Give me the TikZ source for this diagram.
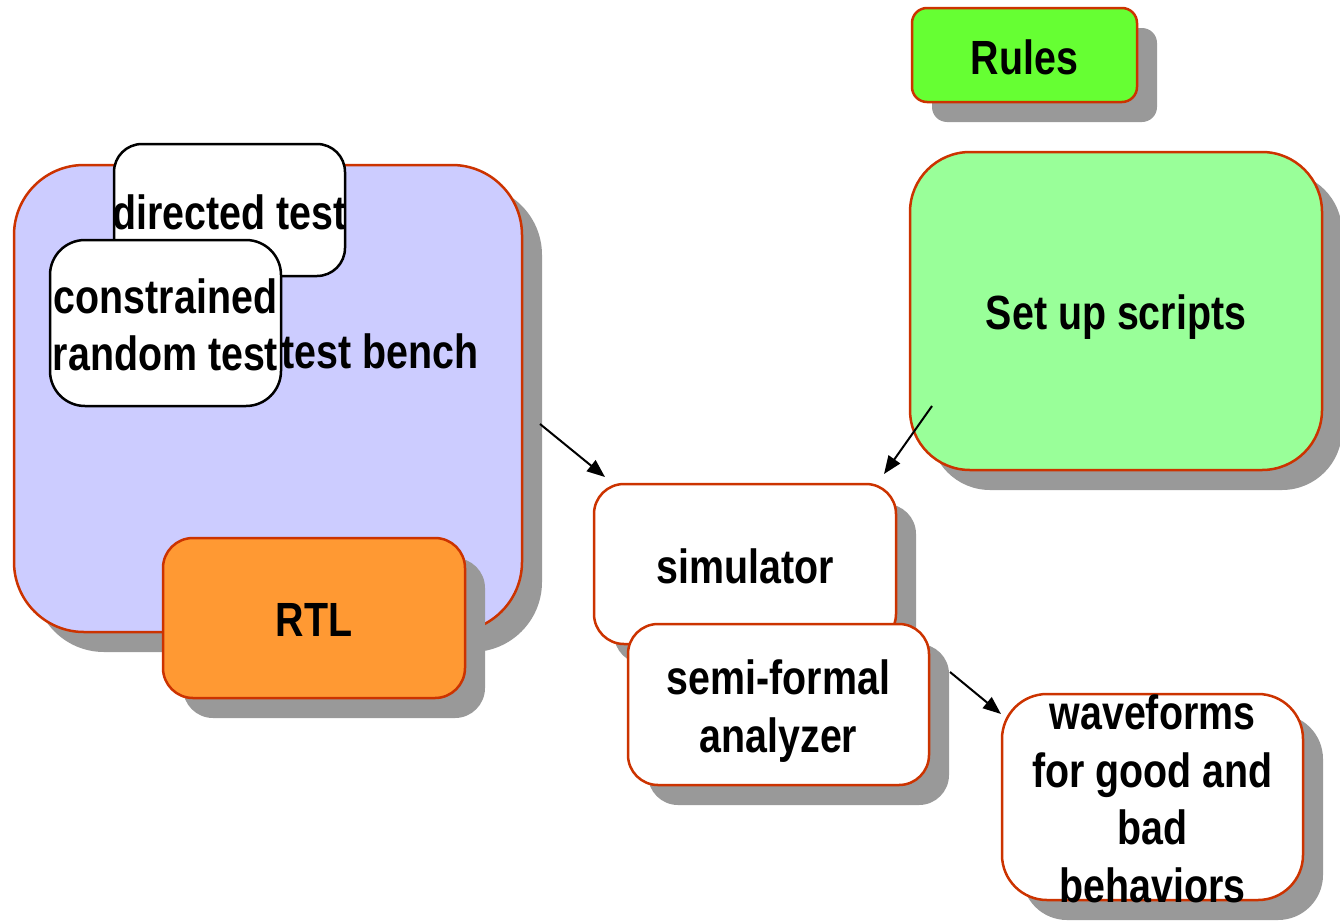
\documentclass[tikz,border=0pt]{standalone}
\usepackage{fontspec}
\setmainfont{Liberation Sans}[FakeStretch=0.82]
\usetikzlibrary{shadows,arrows.meta}
\definecolor{edgered}{HTML}{CC3300}
\definecolor{shadowgray}{HTML}{999999}
\definecolor{lavender}{HTML}{CCCCFF}
\definecolor{rulesgreen}{HTML}{66FF33}
\definecolor{scriptgreen}{HTML}{99FF99}
\definecolor{rtlorange}{HTML}{FF9933}
\newcommand{\lblfont}{\fontsize{48}{57.5}\selectfont\bfseries}
\begin{document}
\begin{tikzpicture}[x=1pt,y=-1pt,
  box/.style={draw=edgered, line width=2.5pt, rounded corners=#1, inner sep=0pt, minimum width=0pt},
  box/.default=30pt,
  plainbox/.style={draw=black, line width=2.5pt, fill=white, rounded corners=#1, inner sep=0pt},
  plainbox/.default=30pt,
  shadowed/.style={drop shadow={shadow xshift=20pt, shadow yshift=-20pt, fill=shadowgray, opacity=1}},
  lbl/.style={font=\lblfont, align=center, inner sep=0pt, text=black},
  conn/.style={line width=2pt, -{Triangle[length=18pt,width=14pt]}}
]
\useasboundingbox (0,0) rectangle (1340,921);

% test bench
\node[box=70pt, shadowed, fill=lavender, minimum width=508pt, minimum height=467pt] (tb) at (268,398.5) {};
\node[lbl] (tbtext) at (380,351) {test bench};
% directed test
\node[plainbox=28pt, minimum width=231pt, minimum height=132pt] (dt) at (229.5,210) {};
\node[lbl] (dttext) at (229.5,212) {directed test};
% constrained random test
\node[plainbox=35pt, minimum width=231pt, minimum height=166pt] (cr) at (165.5,323) {};
\node[lbl] (crtext) at (165.5,325) {constrained\\random test};
% RTL
\node[box=30pt, shadowed, fill=rtlorange, minimum width=302pt, minimum height=160pt] (rtl) at (314,618) {};
\node[lbl] (rtltext) at (314,620) {RTL};
% Rules
\node[box=15pt, shadowed, fill=rulesgreen, minimum width=225pt, minimum height=94pt] (rules) at (1024.5,55) {};
\node[lbl] (rulestext) at (1024.5,57) {Rules};
% Set up scripts
\node[box=60pt, shadowed, fill=scriptgreen, minimum width=412pt, minimum height=318pt] (setup) at (1116,311) {};
\node[lbl] (setuptext) at (1116,317) {Set up scripts};
% simulator
\node[box=30pt, shadowed, fill=white, minimum width=302pt, minimum height=160pt] (sim) at (745,564) {};
\node[lbl] (simtext) at (745,566) {simulator};
% semi-formal analyzer
\node[box=30pt, shadowed, fill=white, minimum width=301pt, minimum height=161pt] (semi) at (778.5,704.5) {};
\node[lbl] (semitext) at (778.5,711) {semi-formal\\analyzer};
% waveforms
\node[box=45pt, shadowed, fill=white, minimum width=301pt, minimum height=206pt] (wave) at (1152.5,797) {};
\node[lbl] (wavetext) at (1152.5,799) {waveforms\\for good and\\bad\\behaviors};

% connectors
\coordinate (a1s) at (540,424);
\coordinate (a1e) at (605,477);
\coordinate (a2s) at (932,406);
\coordinate (a2e) at (884,474);
\coordinate (a3s) at (950,672);
\coordinate (a3e) at (1001,714);
\draw[conn] (a1s) -- (a1e);
\draw[conn] (a2s) -- (a2e);
\draw[conn] (a3s) -- (a3e);
\end{tikzpicture}
\end{document}
